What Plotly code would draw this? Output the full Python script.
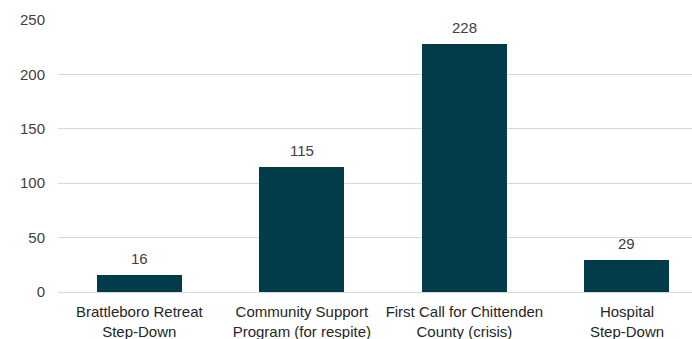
import plotly.graph_objects as go

categories = ["Brattleboro Retreat<br>Step-Down", "Community Support<br>Program (for respite)",
              "First Call for Chittenden<br>County (crisis)", "Hospital<br>Step-Down"]
values = [16, 115, 228, 29]
y_ticks = [0, 50, 100, 150, 200, 250]

x_pos = list(range(len(categories)))

fig = go.Figure(go.Bar(
    x=x_pos, y=values, width=0.523,
    marker=dict(color="#023B49", line=dict(width=0)),
))

for xp, v in zip(x_pos, values):
    fig.add_annotation(x=xp, y=v, text=str(v), showarrow=False, yanchor="bottom",
                       yshift=6, font=dict(size=15, color="#404040", family="Liberation Sans"))

fig.update_layout(
    width=692, height=339,
    margin=dict(l=58, r=0, t=20, b=47),
    plot_bgcolor="white", paper_bgcolor="white",
    showlegend=False,
    bargap=0,
    xaxis=dict(range=[-0.5, 3.4], tickvals=x_pos, ticktext=categories,
               showgrid=False, showline=False, zeroline=False, ticks="",
               ticklabelstandoff=9, automargin=False,
               tickfont=dict(size=15, color="#262626", family="Liberation Sans")),
    yaxis=dict(range=[0, 250], tickvals=y_ticks, showgrid=True, gridcolor="#D9D9D9",
               zeroline=True, zerolinecolor="#D9D9D9", zerolinewidth=1, showline=False,
               ticks="", ticklabelstandoff=12, automargin=False,
               tickfont=dict(size=15, color="#404040", family="Liberation Sans")),
)

fig.write_html("out.html")
